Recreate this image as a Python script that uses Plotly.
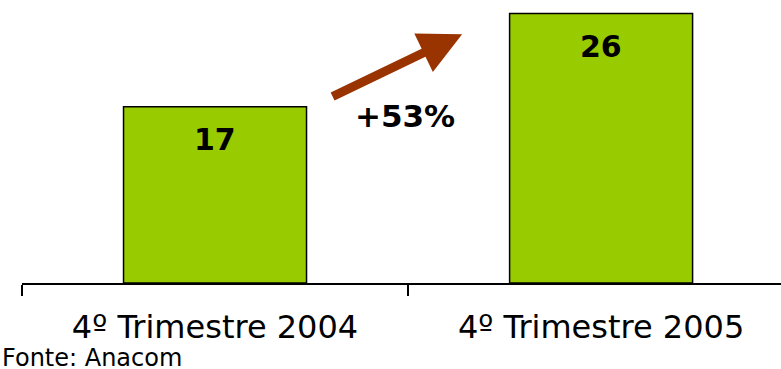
import plotly.graph_objects as go

categories = ["4º Trimestre 2004", "4º Trimestre 2005"]
values = [17, 26]
growth_label = "+53%"
source_label = "Fonte: Anacom"

bar_color = "#99CC00"
arrow_color = "#993300"
font_family = "DejaVu Sans"

fig = go.Figure()

fig.add_trace(go.Bar(x=categories, y=values, width=0.474,
                     marker=dict(color=bar_color, line=dict(color="black", width=1.5)),
                     hoverinfo="skip"))

# value labels near the top of each bar
for cat, val in zip(categories, values):
    fig.add_annotation(x=cat, y=val, text=f"<b>{val}</b>", showarrow=False,
                       yanchor="middle", yshift=-33,
                       font=dict(family=font_family, size=30, color="black"))

# growth arrow between the bars
fig.add_annotation(x=0.64, y=24.0, xref="x", yref="y", text="",
                   showarrow=True, arrowhead=2, arrowsize=0.95, arrowwidth=9,
                   arrowcolor=arrow_color, ax=-131, ay=63)
fig.add_annotation(x=0.492, y=16.1, xref="x", yref="y", text=f"<b>{growth_label}</b>",
                   showarrow=False, font=dict(family=font_family, size=31, color="black"))

# source note
fig.add_annotation(x=0, y=-0.264, xref="paper", yref="paper", text=source_label,
                   showarrow=False, xanchor="left", yanchor="middle", xshift=-22,
                   font=dict(family=font_family, size=24, color="black"))

fig.update_layout(
    width=781, height=369,
    margin=dict(l=22, r=0, t=0, b=86),
    plot_bgcolor="white", paper_bgcolor="white",
    showlegend=False,
    font=dict(family=font_family, color="black"),
    xaxis=dict(type="category", range=[-0.5, 1.466], tickson="boundaries",
               ticks="outside", ticklen=11, tickwidth=1.5, tickcolor="black",
               showline=True, linecolor="black", linewidth=1.5,
               showgrid=False, ticklabelstandoff=15,
               tickfont=dict(family=font_family, size=32, color="black")),
    yaxis=dict(range=[0, 27.3], visible=False, showgrid=False),
)

# drop the browser's default page margin so the figure sits at the corner
fig.write_html("out.html", config={"displayModeBar": False},
               post_script="document.body.style.margin='0';")
